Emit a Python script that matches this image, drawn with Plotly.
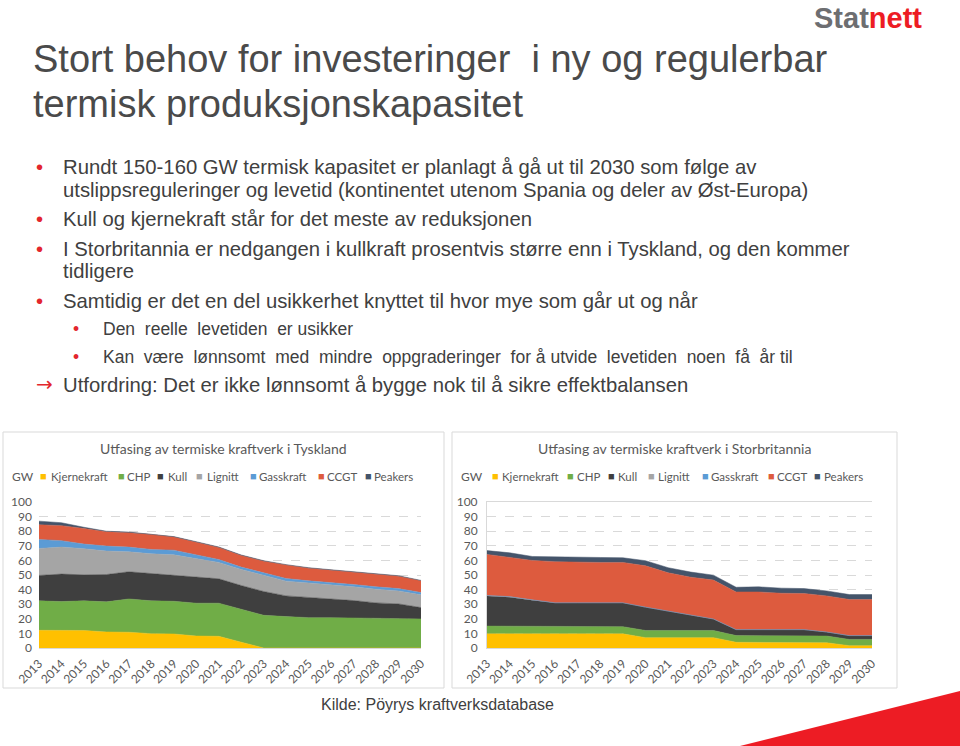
import plotly.graph_objects as go

years = list(range(2013, 2031))
series_names = ["Kjernekraft", "CHP", "Kull", "Lignitt", "Gasskraft", "CCGT", "Peakers"]
series_colors = ["#FFC000", "#70AD47", "#3F3F3F", "#A5A5A5", "#5B9BD5", "#DD5B3E", "#44546A"]

de_kjernekraft = [12.1, 12.0, 12.0, 11.0, 10.8, 9.8, 9.6, 8.2, 8.0, 4.0, 0, 0, 0, 0, 0, 0, 0, 0]
de_chp = [20.2, 19.8, 20.3, 20.6, 22.8, 22.5, 22.4, 22.5, 22.7, 22.5, 22.4, 21.5, 20.8, 20.8, 20.6, 19.9, 19.9, 19.9]
de_kull = [17.4, 18.8, 17.8, 18.7, 18.6, 18.7, 18.1, 18.0, 16.7, 16.3, 16.3, 14.2, 14.0, 12.8, 11.9, 11.0, 10.3, 7.8]
de_lignitt = [18.5, 18.5, 17.9, 16.1, 13.7, 13.5, 13.7, 12.6, 11.2, 11.0, 11.0, 10.1, 9.8, 9.9, 9.4, 9.4, 8.9, 8.7]
de_gasskraft = [6.2, 4.4, 3.2, 3.4, 3.2, 3.0, 3.2, 2.7, 2.0, 1.6, 1.8, 1.8, 1.4, 1.4, 1.6, 1.6, 1.6, 1.6]
de_ccgt = [10.0, 10.3, 10.7, 9.8, 9.9, 10.3, 9.0, 8.5, 8.3, 8.0, 8.0, 9.2, 8.7, 8.4, 8.4, 8.7, 8.5, 8.0]
de_peakers = [2.5, 2.0, 0.8, 0.4, 0.4, 0.3, 0.3, 0.3, 0.3, 0.3, 0.3, 0.3, 0.3, 0.3, 0.3, 0.3, 0.3, 0.3]

uk_kjernekraft = [9.7, 9.7, 9.7, 9.7, 9.7, 9.7, 9.7, 7.1, 7.1, 7.1, 7.1, 3.9, 3.9, 3.9, 3.9, 3.6, 1.6, 1.6]
uk_chp = [5.3, 5.3, 5.1, 5.1, 5.1, 5.1, 4.9, 4.9, 4.9, 4.9, 4.9, 4.6, 4.6, 4.6, 4.6, 4.6, 4.3, 4.3]
uk_kull = [20.6, 19.8, 17.9, 16.2, 16.2, 16.2, 16.4, 16.0, 13.2, 10.4, 7.9, 4.1, 4.1, 4.1, 4.1, 2.8, 2.6, 2.6]
uk_lignitt = [0.4, 0.4, 0.3, 0, 0, 0, 0, 0, 0, 0, 0, 0, 0, 0, 0, 0, 0, 0]
uk_gasskraft = [0, 0, 0, 0, 0, 0, 0, 0, 0, 0, 0, 0, 0, 0, 0, 0, 0, 0]
uk_ccgt = [28.1, 27.0, 27.0, 28.1, 27.6, 27.6, 27.6, 28.3, 26.3, 26.1, 26.6, 25.8, 25.8, 24.9, 24.7, 24.7, 24.7, 24.7]
uk_peakers = [2.6, 3.0, 2.7, 3.2, 3.6, 3.4, 3.2, 3.5, 3.5, 3.5, 3.4, 3.2, 3.5, 3.5, 3.4, 3.4, 3.4, 3.4]

de_series = [de_kjernekraft, de_chp, de_kull, de_lignitt, de_gasskraft, de_ccgt, de_peakers]
uk_series = [uk_kjernekraft, uk_chp, uk_kull, uk_lignitt, uk_gasskraft, uk_ccgt, uk_peakers]

chart_titles = ["Utfasing av termiske kraftverk i Tyskland", "Utfasing av termiske kraftverk i Storbritannia"]

title_lines = ["Stort behov for investeringer  i ny og regulerbar", "termisk produksjonskapasitet"]
bullets = [
    ("•", "Rundt 150-160 GW termisk kapasitet er planlagt å gå ut til 2030 som følge av", 167, 0),
    ("", "utslippsreguleringer og levetid (kontinentet utenom Spania og deler av Øst-Europa)", 190, 0),
    ("•", "Kull og kjernekraft står for det meste av reduksjonen", 219, 0),
    ("•", "I Storbritannia er nedgangen i kullkraft prosentvis større enn i Tyskland, og den kommer", 249, 0),
    ("", "tidligere", 271, 0),
    ("•", "Samtidig er det en del usikkerhet knyttet til hvor mye som går ut og når", 301, 0),
    ("•", "Den  reelle  levetiden  er usikker", 329, 1),
    ("•", "Kan  være  lønnsomt  med  mindre  oppgraderinger  for å utvide  levetiden  noen  få  år til", 357, 1),
    ("→", "Utfordring: Det er ikke lønnsomt å bygge nok til å sikre effektbalansen", 385, 0),
]
source_text = "Kilde: Pöyrys kraftverksdatabase"

W, H = 960, 746
def px(x):
    return x / W
def py(y):
    return 1 - y / H

RED = "#E3262D"
TXT = "#404040"
CF = "Lato, 'Open Sans', sans-serif"
SF = "'Liberation Sans', Arial, sans-serif"

fig = go.Figure()

for idx, (series, suffix) in enumerate([(de_series, ""), (uk_series, "2")]):
    for name, color, vals in zip(series_names, series_colors, series):
        fig.add_trace(go.Scatter(
            x=years, y=vals, name=name, stackgroup="s" + str(idx),
            mode="lines", line=dict(width=0.5, color=color), fillcolor=color,
            xaxis="x" + suffix, yaxis="y" + suffix, showlegend=False,
            hoverinfo="x+y+name",
        ))

panels = [
    dict(box=(3, 432, 444, 688), plot_x=(39, 421)),
    dict(box=(452, 432, 897, 688), plot_x=(487, 872)),
]
plot_y = (502, 648)

for i, p in enumerate(panels):
    s = "" if i == 0 else str(i + 1)
    fig.layout["xaxis" + s] = dict(
        domain=[px(p["plot_x"][0]), px(p["plot_x"][1])],
        anchor="y" + s, range=[2013, 2030], tickmode="array", tickvals=years,
        ticktext=[str(y) for y in years], tickangle=-45,
        tickfont=dict(family=CF, size=12, color="#595959"),
        showline=True, linecolor="#D9D9D9", linewidth=1, mirror=(i == 1),
        ticks="", ticklabelstandoff=3,
        showgrid=False, zeroline=False, fixedrange=True, automargin=False,
    )
    fig.layout["yaxis" + s] = dict(
        domain=[py(plot_y[1]), py(plot_y[0])], anchor="x" + s,
        range=[0, 100], dtick=10, tickfont=dict(family=CF, size=12, color="#595959"),
        showgrid=True, gridcolor="#D9D9D9", griddash="dash", gridwidth=1,
        zeroline=False, showline=(i == 1), linecolor="#D9D9D9",
        ticks="", ticklabelstandoff=6, fixedrange=True, automargin=False,
    )

shapes = []
for p in panels:
    x0, y0, x1, y1 = p["box"]
    shapes.append(dict(type="rect", xref="paper", yref="paper", x0=px(x0), x1=px(x1),
                       y0=py(y1), y1=py(y0), line=dict(color="#D9D9D9", width=1)))
shapes.append(dict(type="path", xref="paper", yref="paper",
                   path=f"M {px(740)} {py(746)} L {px(960)} {py(691)} L {px(960)} {py(746)} Z",
                   fillcolor="#ED1C24", line=dict(width=0)))

ann = []
for j, line in enumerate(title_lines):
    ann.append(dict(text=line, x=px(31), y=py(59 + 45 * j), xref="paper", yref="paper",
                    xanchor="left", yanchor="middle", showarrow=False,
                    font=dict(family=SF, size=38, color="#4A4A4A")))
ann.append(dict(text="<b><span style='color:#6D6E71'>Stat</span><span style='color:#ED1C24'>nett</span></b>",
                x=px(812), y=py(18), xref="paper", yref="paper", xanchor="left", yanchor="middle",
                showarrow=False, font=dict(family=SF, size=29)))
for sym, text, yy, lvl in bullets:
    tx = 61 if lvl == 0 else 101
    bx = 34 if lvl == 0 else 71
    size = 20.3 if lvl == 0 else 17.5
    if sym == "•":
        ann.append(dict(text=sym, x=px(bx), y=py(yy), xref="paper", yref="paper",
                        xanchor="left", yanchor="middle", showarrow=False,
                        font=dict(family=SF, size=size, color=RED)))
    elif sym:
        ann.append(dict(text=sym, x=px(bx), y=py(yy - 1), xref="paper", yref="paper",
                        xanchor="left", yanchor="middle", showarrow=False,
                        font=dict(family="'DejaVu Sans', sans-serif", size=20, color=RED)))
    ann.append(dict(text=text, x=px(tx), y=py(yy), xref="paper", yref="paper",
                    xanchor="left", yanchor="middle", showarrow=False,
                    font=dict(family=SF, size=size, color=TXT)))
legend_pos = [
    [(39, 49), (117, 125), (156, 166), (195, 205), (249, 257), (317, 325), (364, 372)],
    [(491, 500), (566, 575), (607, 616), (647, 656), (701, 709), (767, 775), (813, 822)],
]
gw_x = [10, 459]
for i, p in enumerate(panels):
    x0, y0, x1, y1 = p["box"]
    ann.append(dict(text=chart_titles[i], x=px((x0 + x1) / 2), y=py(449), xref="paper", yref="paper",
                    xanchor="center", yanchor="middle", showarrow=False,
                    font=dict(family=CF, size=14, color="#595959")))
    ann.append(dict(text="GW", x=px(gw_x[i]), y=py(476), xref="paper", yref="paper",
                    xanchor="left", yanchor="middle", showarrow=False,
                    font=dict(family=CF, size=12, color="#595959")))
    for (sx, tx), name, color in zip(legend_pos[i], series_names, series_colors):
        ann.append(dict(text="■", x=px(sx - 1), y=py(476), xref="paper", yref="paper",
                        xanchor="left", yanchor="middle", showarrow=False,
                        font=dict(family=SF, size=11, color=color)))
        ann.append(dict(text=name, x=px(tx), y=py(476), xref="paper", yref="paper",
                        xanchor="left", yanchor="middle", showarrow=False,
                        font=dict(family=CF, size=11.5, color="#595959")))
ann.append(dict(text=source_text, x=px(319), y=py(704), xref="paper", yref="paper",
                xanchor="left", yanchor="middle", showarrow=False,
                font=dict(family=SF, size=16, color=TXT)))

fig.update_layout(
    template="none",
    width=W, height=H, margin=dict(l=0, r=0, t=0, b=0, autoexpand=False),
    paper_bgcolor="white", plot_bgcolor="white",
    shapes=shapes, annotations=ann, showlegend=False,
)

fig.write_html("out.html", config={"displayModeBar": False})
